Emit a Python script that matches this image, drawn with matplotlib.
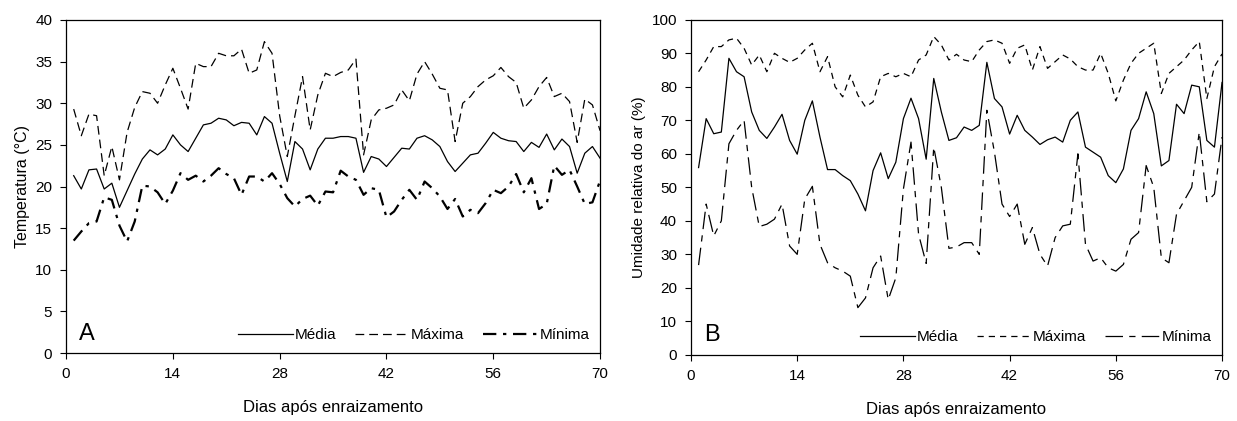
import numpy as np
import matplotlib.pyplot as plt

plt.rcParams['font.family'] = ['Liberation Sans', 'DejaVu Sans']

dias = np.arange(1, 71)

# Temperatura (°C)
temp_media = [21.3, 19.7, 22.0, 22.1, 19.7, 20.4, 17.5, 19.5, 21.5, 23.3,
              24.4, 23.8, 24.5, 26.2, 25.0, 24.2, 25.8, 27.4, 27.6, 28.2,
              28.0, 27.3, 27.7, 27.6, 26.2, 28.4, 27.6, 24.0, 20.6, 25.4,
              24.5, 22.0, 24.5, 25.8, 25.8, 26.0, 26.0, 25.8, 21.7, 23.6,
              23.3, 22.4, 23.5, 24.6, 24.5, 25.8, 26.1, 25.6, 24.8, 23.0,
              21.8, 22.8, 23.8, 24.0, 25.2, 26.5, 25.8, 25.5, 25.4, 24.2,
              25.3, 24.7, 26.3, 24.4, 25.7, 24.8, 21.6, 24.0, 24.8, 23.4]
temp_max = [29.3, 26.1, 28.7, 28.5, 21.3, 24.8, 20.8, 26.5, 29.5, 31.4,
            31.2, 30.0, 32.2, 34.2, 31.8, 29.3, 34.8, 34.4, 34.4, 36.0,
            35.7, 35.7, 36.5, 33.6, 34.0, 37.4, 36.0, 28.5, 23.6, 28.5,
            33.2, 26.8, 31.0, 33.6, 33.2, 33.7, 34.0, 35.3, 23.8, 28.0,
            29.2, 29.4, 29.8, 31.6, 30.3, 33.5, 35.0, 33.5, 31.8, 31.6,
            25.4, 30.0, 30.8, 32.0, 32.8, 33.3, 34.3, 33.2, 32.5, 29.4,
            30.4, 32.0, 33.1, 30.8, 31.2, 30.2, 25.3, 30.5, 29.8, 26.7]
temp_min = [13.5, 14.6, 15.6, 15.8, 18.7, 18.4, 15.3, 13.4, 15.8, 20.1,
            20.0, 19.3, 17.9, 19.5, 21.6, 20.8, 21.3, 20.6, 21.3, 22.2,
            21.5, 21.0, 19.0, 21.2, 21.2, 20.6, 21.6, 20.3, 18.6, 17.6,
            18.5, 18.9, 17.7, 19.4, 19.3, 21.9, 21.2, 20.8, 19.0, 19.8,
            19.6, 16.3, 17.0, 18.4, 19.6, 18.4, 20.6, 19.8, 18.8, 17.3,
            18.5, 16.4, 17.2, 16.8, 18.0, 19.6, 19.2, 20.0, 21.5, 19.3,
            21.0, 17.3, 17.9, 22.5, 21.4, 22.0, 20.0, 17.9, 18.1, 20.7]

# Umidade relativa do ar (%)
ur_media = [55.9, 70.5, 66.0, 66.5, 88.5, 84.5, 83.0, 72.5, 67.0, 64.6,
            68.0, 71.8, 64.0, 59.9, 70.0, 75.8, 65.0, 55.3, 55.3, 53.5,
            52.0, 48.0, 43.0, 55.0, 60.3, 52.6, 57.5, 70.5, 76.6, 70.5,
            58.4, 82.5, 72.5, 64.0, 64.8, 68.0, 67.0, 68.5, 87.3, 76.5,
            74.0, 65.9, 71.5, 67.0, 65.0, 62.8, 64.2, 65.0, 63.5, 70.0,
            72.5, 62.0, 60.5, 59.0, 53.5, 51.4, 55.5, 67.0, 70.5, 78.5,
            72.0, 56.4, 58.0, 74.8, 72.0, 80.5, 80.0, 64.0, 62.0, 81.3]
ur_max = [84.5, 88.0, 92.0, 92.0, 94.0, 94.5, 91.5, 86.5, 89.5, 84.5,
          90.0, 88.5, 87.3, 88.5, 91.0, 93.0, 84.5, 89.0, 80.0, 77.0,
          83.5, 77.5, 74.0, 75.5, 83.0, 84.0, 83.0, 84.0, 83.0, 88.0,
          89.5, 95.0, 92.5, 88.0, 89.7, 88.0, 87.5, 91.0, 93.5, 94.0,
          93.0, 87.0, 91.5, 92.5, 85.0, 92.0, 85.5, 87.5, 89.5, 88.3,
          86.0, 85.0, 85.0, 90.0, 84.0, 75.8, 82.0, 87.0, 90.0, 91.5,
          93.0, 78.0, 84.0, 86.0, 88.0, 91.0, 93.5, 76.5, 86.0, 89.8]
ur_min = [26.8, 45.0, 35.5, 40.0, 63.0, 67.0, 70.0, 50.0, 38.3, 39.0,
          40.5, 45.0, 32.5, 30.0, 46.5, 50.3, 33.0, 27.5, 26.0, 25.0,
          23.5, 14.1, 17.0, 26.0, 29.5, 16.5, 23.0, 49.5, 63.5, 36.0,
          27.3, 62.0, 50.0, 31.8, 32.2, 33.5, 33.5, 30.0, 73.0, 60.5,
          45.0, 41.3, 45.0, 33.0, 38.0, 30.0, 26.5, 35.0, 38.5, 39.0,
          60.0, 33.0, 28.0, 29.0, 26.0, 25.0, 27.0, 34.5, 36.5, 56.5,
          50.0, 29.0, 27.5, 42.0, 46.0, 50.0, 66.5, 45.7, 48.0, 65.0]

xticks = [0, 14, 28, 42, 56, 70]

fig = plt.figure(figsize=(12.37, 4.21), dpi=100)
ax1 = fig.add_axes([0.0534, 0.1615, 0.4317, 0.791])
ax2 = fig.add_axes([0.5586, 0.157, 0.4293, 0.796])

# Painel A - temperatura
ax1.plot(dias, temp_media, color='black', lw=0.9, label='Média')
ax1.plot(dias, temp_max, color='black', lw=0.9, dashes=(7, 4), label='Máxima')
ax1.plot(dias, temp_min, color='black', lw=1.6, dashes=(6, 3, 1.5, 3), label='Mínima')
ax1.set_ylim(0, 40)
ax1.set_yticks(np.arange(0, 41, 5))
ax1.set_ylabel('Temperatura (°C)', fontsize=11.5)
ax1.text(0.025, 0.04, 'A', transform=ax1.transAxes, fontsize=17)

# Painel B - umidade relativa
ax2.plot(dias, ur_media, color='black', lw=0.9, label='Média')
ax2.plot(dias, ur_max, color='black', lw=0.9, dashes=(5, 4), label='Máxima')
ax2.plot(dias, ur_min, color='black', lw=0.9, dashes=(14, 5, 5, 5), label='Mínima')
ax2.set_ylim(0, 100)
ax2.set_yticks(np.arange(0, 101, 10))
ax2.set_ylabel('Umidade relativa do ar (%)', fontsize=11)
ax2.text(0.025, 0.04, 'B', transform=ax2.transAxes, fontsize=17)

for ax in (ax1, ax2):
    ax.set_xlim(0, 70)
    ax.set_xticks(xticks)
    ax.set_xlabel('Dias após enraizamento', fontsize=12, labelpad=14)
    ax.tick_params(labelsize=11, direction='out', length=4, width=0.8, pad=6)
    for s in ax.spines.values():
        s.set_linewidth(0.9)
    ax.legend(loc='lower right', ncol=3, frameon=False, fontsize=11,
              handlelength=3.6, handletextpad=0.1, columnspacing=1.2,
              borderaxespad=0.3)

fig.savefig('out.png', dpi=100)
